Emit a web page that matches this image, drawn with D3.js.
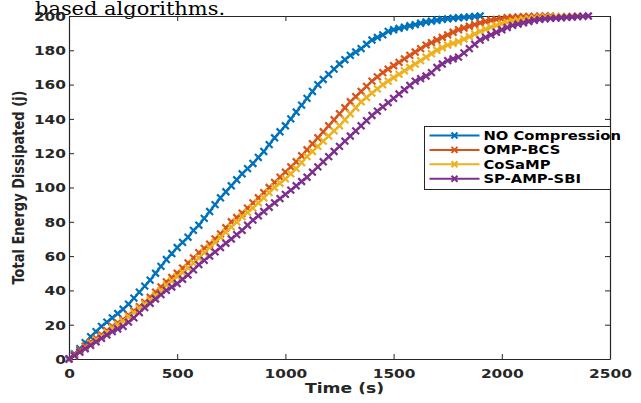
<!DOCTYPE html>
<html>
<head>
<meta charset="utf-8">
<script src="https://cdn.jsdelivr.net/npm/d3@7"></script>
<style>
  body { margin: 0; background: #fff; }
  svg { display: block; }
</style>
</head>
<body>
<svg id="chart" width="641" height="403"></svg>
<script>
// sample times (s), shared by all series; each series uses as many as it has values
const times = [0, 25, 50, 75, 100, 125, 150, 175, 200, 225, 250, 275, 300, 325, 350, 375, 400, 425, 450, 475,
  500, 525, 550, 575, 600, 625, 650, 675, 700, 725, 750, 775, 800, 825, 850, 875, 900, 925, 950, 975,
  1000, 1025, 1050, 1075, 1100, 1125, 1150, 1175, 1200, 1225, 1250, 1275, 1300, 1325, 1350, 1375, 1400, 1425, 1450, 1475,
  1500, 1525, 1550, 1575, 1600, 1625, 1650, 1675, 1700, 1725, 1750, 1775, 1800, 1825, 1850, 1875, 1900, 1925, 1950, 1975,
  2000, 2025, 2050, 2075, 2100, 2125, 2150, 2175, 2200, 2225, 2250, 2275, 2300, 2325, 2350, 2375, 2400];

// total energy dissipated (j)
const eBlue = [0, 3, 6, 9.5, 13, 16, 19, 21.5, 24, 26.5, 29, 32, 35.5, 39, 42.5, 46, 50, 54, 58, 61.5,
  65, 68, 71, 75, 78, 82, 86, 90, 94, 97.5, 101, 104.5, 108, 111, 114, 117.5, 121, 125, 129, 132.5,
  136, 140, 144, 148, 152, 156, 160, 163, 166, 169, 172, 174.5, 177, 179, 181, 183.5, 186, 187.5, 189, 191,
  192, 192.8, 193.5, 194.3, 195, 195.8, 196.5, 197, 197.5, 198, 198.3, 198.7, 199, 199.2, 199.5, 199.8, 200];

const eOmp = [0, 2.5, 5, 7.5, 10, 12, 14, 16.5, 19, 21, 23, 25.5, 28, 30.5, 33, 36, 39, 42, 45, 47.5,
  50, 53, 56, 59, 62, 64.5, 67, 70, 73, 76.5, 80, 82.5, 85, 88, 91, 94, 97, 100, 103, 106,
  109, 112, 115, 118.5, 122, 125.5, 129, 132.5, 136, 139.5, 143, 146.5, 150, 153, 156, 159, 162, 164.5, 167, 169,
  171, 173, 175, 177, 179, 181, 183, 184.5, 186, 187.5, 189, 190.5, 192, 193, 194, 195, 196, 196.8, 197.5, 198,
  198.5, 199, 199.2, 199.4, 199.6, 199.7, 199.8, 199.9, 200, 200];

const eCosamp = [0, 2, 4, 6.5, 9, 11, 13, 15.5, 18, 20, 22, 24.5, 27, 29.5, 32, 34.5, 37, 40, 43, 45.5,
  48, 50.5, 53, 56, 59, 62, 65, 68, 71, 74, 77, 80, 83, 85.5, 88, 91, 94, 97, 100, 102.5,
  105, 108, 111, 114.5, 118, 121, 124, 127, 130, 133, 136, 139.5, 143, 146.5, 150, 152.5, 155, 157.5, 160, 162,
  164, 166, 168, 170, 172, 174, 176, 178, 180, 181.5, 183, 184, 185, 186.5, 188, 189.5, 191, 192.3, 193.5, 194.5,
  195.5, 196.3, 197, 197.5, 198, 198.4, 198.8, 199, 199.3, 199.5, 199.6, 199.7, 199.8, 199.9, 200];

const eSp = [0, 2, 4, 6, 8, 10, 12, 14, 16, 17.5, 19, 21.5, 24, 27, 30, 32.5, 35, 37.5, 40, 42,
  44, 46.5, 49, 52, 55, 57.5, 60, 62.5, 65, 67.5, 70, 72.5, 75, 78, 81, 83.5, 86, 88.5, 91, 93.5,
  96, 98.5, 101, 103.5, 106, 109, 112, 115, 118, 121, 124, 127, 130, 133, 136, 139, 142, 144.5, 147, 149.5,
  152, 154.5, 157, 159.5, 162, 163.5, 165, 167, 170, 172, 174, 175, 176, 178.5, 181, 183.5, 186, 187.5, 189, 190.5,
  192, 193.3, 194.5, 195.3, 196, 196.8, 197.5, 198, 198.3, 198.6, 198.8, 199, 199.2, 199.4, 199.6, 199.8, 200];

const seriesNames = ["NO Compression", "OMP-BCS", "CoSaMP", "SP-AMP-SBI"];
const seriesColors = ["#0072BD", "#D95319", "#EDB120", "#7E2F8E"];
const xTicks = [0, 500, 1000, 1500, 2000, 2500];
const yTicks = [0, 20, 40, 60, 80, 100, 120, 140, 160, 180, 200];

const series = [eBlue, eOmp, eCosamp, eSp].map((vals, i) => ({
  name: seriesNames[i],
  color: seriesColors[i],
  points: vals.map((e, j) => ({ t: times[j], e: e }))
}));

const margins = { top: 16, bottom: 44, left: 69, right: 31 };
const width = 641, height = 403;
const stretch = 1.23; // the figure's text looks horizontally stretched
const textColor = "#262626";
const font = "DejaVu Sans, Verdana, sans-serif";

const svg = d3.select("#chart");

const x = d3.scaleLinear().domain([0, 2500]).range([margins.left, width - margins.right]);
const y = d3.scaleLinear().domain([0, 200]).range([height - margins.bottom, margins.top]);

// caption text from the page above the figure, cut off at the top
svg.append("text")
  .attr("transform", "translate(35,15) scale(1.12,1)")
  .attr("font-family", "DejaVu Serif, serif")
  .attr("font-size", 18.7)
  .attr("fill", "#000")
  .text("based algorithms.");

// axes, ticks pointing inward
const axisStyle = (g) => {
  g.select(".domain").attr("stroke", textColor).attr("stroke-width", 1.2);
  g.selectAll(".tick line").attr("stroke", textColor);
};

svg.append("g")
  .attr("transform", `translate(0,${y(0)})`)
  .call(d3.axisBottom(x).tickValues(xTicks).tickSizeInner(-5).tickSizeOuter(0).tickFormat(d3.format("d")))
  .call(axisStyle)
  .call((g) => g.selectAll(".tick text")
    .attr("y", 0).attr("dy", 0)
    .attr("transform", `translate(0,19) scale(${stretch},1)`)
    .attr("font-family", font).attr("font-weight", "bold").attr("font-size", 12.5)
    .attr("fill", textColor));

svg.append("g")
  .attr("transform", `translate(0,${y(200)})`)
  .call(d3.axisTop(x).tickValues(xTicks).tickSizeInner(-5).tickSizeOuter(0).tickFormat(""))
  .call(axisStyle);

svg.append("g")
  .attr("transform", `translate(${x(0)},0)`)
  .call(d3.axisLeft(y).tickValues(yTicks).tickSizeInner(-5).tickSizeOuter(0))
  .call(axisStyle)
  .call((g) => g.selectAll(".tick text")
    .attr("x", 0).attr("dy", "0.35em")
    .attr("transform", `translate(-3,0) scale(${stretch},1)`)
    .attr("font-family", font).attr("font-weight", "bold").attr("font-size", 12.5)
    .attr("fill", textColor));

svg.append("g")
  .attr("transform", `translate(${x(2500)},0)`)
  .call(d3.axisRight(y).tickValues(yTicks).tickSizeInner(-5).tickSizeOuter(0).tickFormat(""))
  .call(axisStyle);

// axis titles
svg.append("text")
  .attr("transform", `translate(${(x(0) + x(2500)) / 2 + 5},393) scale(${stretch},1)`)
  .attr("text-anchor", "middle")
  .attr("font-family", font).attr("font-weight", "bold").attr("font-size", 14)
  .attr("fill", textColor)
  .text("Time (s)");

svg.append("text")
  .attr("transform", `translate(23.5,${(y(0) + y(200)) / 2}) rotate(-90) scale(1,${stretch})`)
  .attr("text-anchor", "middle")
  .attr("font-family", font).attr("font-weight", "bold").attr("font-size", 13)
  .attr("fill", textColor)
  .text("Total Energy Dissipated (j)");

// lines and x markers
const line = d3.line().x((d) => x(d.t)).y((d) => y(d.e));
const ms = 3.4;
const cross = `M${-ms},${-ms}L${ms},${ms}M${-ms},${ms}L${ms},${-ms}`;

const groups = svg.append("g")
  .selectAll("g")
  .data(series)
  .enter()
  .append("g");

groups.append("path")
  .attr("d", (d) => line(d.points))
  .attr("fill", "none")
  .attr("stroke", (d) => d.color)
  .attr("stroke-width", 2.2);

groups.each(function (s) {
  d3.select(this).selectAll("path.mk")
    .data(s.points)
    .enter()
    .append("path")
    .attr("class", "mk")
    .attr("d", cross)
    .attr("transform", (d) => `translate(${x(d.t)},${y(d.e)})`)
    .attr("stroke", s.color)
    .attr("stroke-width", 2.2)
    .attr("fill", "none");
});

// legend
const legend = svg.append("g").attr("transform", "translate(424.5,126.5)");
legend.append("rect")
  .attr("width", 186).attr("height", 63)
  .attr("fill", "#fff").attr("stroke", textColor).attr("stroke-width", 1);

const rows = legend.selectAll("g.row")
  .data(series)
  .enter()
  .append("g")
  .attr("class", "row")
  .attr("transform", (d, i) => `translate(0,${9 + i * 14.4})`);

rows.append("line")
  .attr("x1", 5).attr("x2", 55)
  .attr("stroke", (d) => d.color).attr("stroke-width", 2);
rows.append("path")
  .attr("d", "M-3,-3L3,3M-3,3L3,-3")
  .attr("transform", "translate(30,0)")
  .attr("stroke", (d) => d.color).attr("stroke-width", 2).attr("fill", "none");
rows.append("text")
  .attr("transform", `translate(59,0) scale(${stretch},1)`)
  .attr("dy", "0.35em")
  .attr("font-family", font).attr("font-weight", "bold").attr("font-size", 12)
  .attr("fill", "#000")
  .text((d) => d.name);

// bottom strip fades like the cut-off figure
svg.append("rect")
  .attr("x", 0).attr("y", 394).attr("width", width).attr("height", 9)
  .attr("fill", "#fff").attr("opacity", 0.75);
</script>
</body>
</html>
